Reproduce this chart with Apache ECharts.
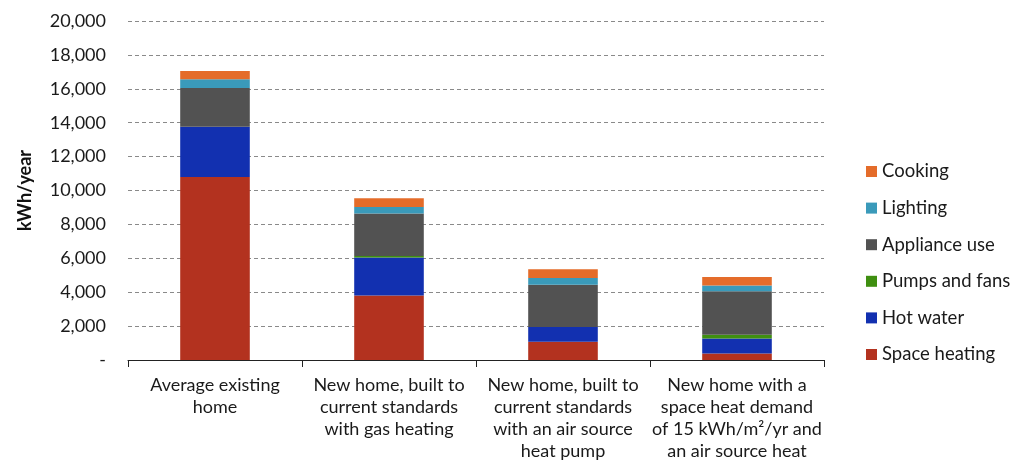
<!DOCTYPE html>
<html><head><meta charset="utf-8">
<script src="https://cdn.jsdelivr.net/npm/echarts@6/dist/echarts.min.js"></script>
<style>html,body{margin:0;padding:0;background:#fff}#c{width:1024px;height:462px}</style>
</head><body><div id="c"></div>
<script>
const categories = [
  "Average existing\nhome",
  "New home, built to\ncurrent standards\nwith gas heating",
  "New home, built to\ncurrent standards\nwith an air source\nheat pump",
  "New home with a\nspace heat demand\nof 15 kWh/m²/yr and\nan air source heat"
];
const spaceHeating = [10800, 3800, 1080, 380];
const hotWater     = [2960, 2240, 870, 890];
const pumpsFans    = [0, 100, 0, 220];
const applianceUse = [2290, 2510, 2490, 2560];
const lighting     = [510, 380, 400, 350];
const cooking      = [490, 510, 510, 500];
const yTicks = { min: 0, max: 20000, interval: 2000 };

const seriesDefs = [
  ["Space heating", spaceHeating, "#B3321F"],
  ["Hot water", hotWater, "#1230B0"],
  ["Pumps and fans", pumpsFans, "#3F8F10"],
  ["Appliance use", applianceUse, "#525252"],
  ["Lighting", lighting, "#3A9ABA"],
  ["Cooking", cooking, "#E46C2A"]
];
const FONT = "Lato";
const chart = echarts.init(document.getElementById('c'));
chart.setOption({
  animation: false,
  backgroundColor: '#ffffff',
  grid: { left: 128, right: 200, top: 21, bottom: 102 },
  legend: {
    orient: 'vertical', left: 861, top: 157,
    itemWidth: 11, itemHeight: 11, itemGap: 17.6,
    icon: 'rect',
    data: seriesDefs.map(s => s[0]).reverse(),
    textStyle: { fontFamily: FONT, fontSize: 18.5, color: '#1a1a1a', lineHeight: 18 }
  },
  xAxis: {
    type: 'category', data: categories,
    axisLine: { lineStyle: { color: '#222', width: 1 } },
    axisTick: { show: true, length: 7, lineStyle: { color: '#222' } },
    axisLabel: { interval: 0, margin: 14, fontFamily: FONT, fontSize: 18, color: '#1a1a1a', lineHeight: 22 }
  },
  yAxis: {
    type: 'value', min: yTicks.min, max: yTicks.max, interval: yTicks.interval,
    name: 'kWh/year', nameLocation: 'middle', nameGap: 94, nameRotate: 90,
    nameTextStyle: { fontFamily: FONT, fontSize: 18, fontWeight: 'bold', color: '#111' },
    axisLine: { show: false }, axisTick: { show: false },
    axisLabel: { margin: 22, fontFamily: FONT, fontSize: 18, color: '#1a1a1a',
      formatter: v => v === 0 ? '-' : v.toLocaleString('en-US') },
    splitLine: { lineStyle: { color: '#8a8a8a', type: [4, 3], width: 1 } }
  },
  series: seriesDefs.map(([name, data, color]) => ({
    name, type: 'bar', stack: 'total', data, barWidth: '40%',
    itemStyle: { color }
  }))
});
</script></body></html>
